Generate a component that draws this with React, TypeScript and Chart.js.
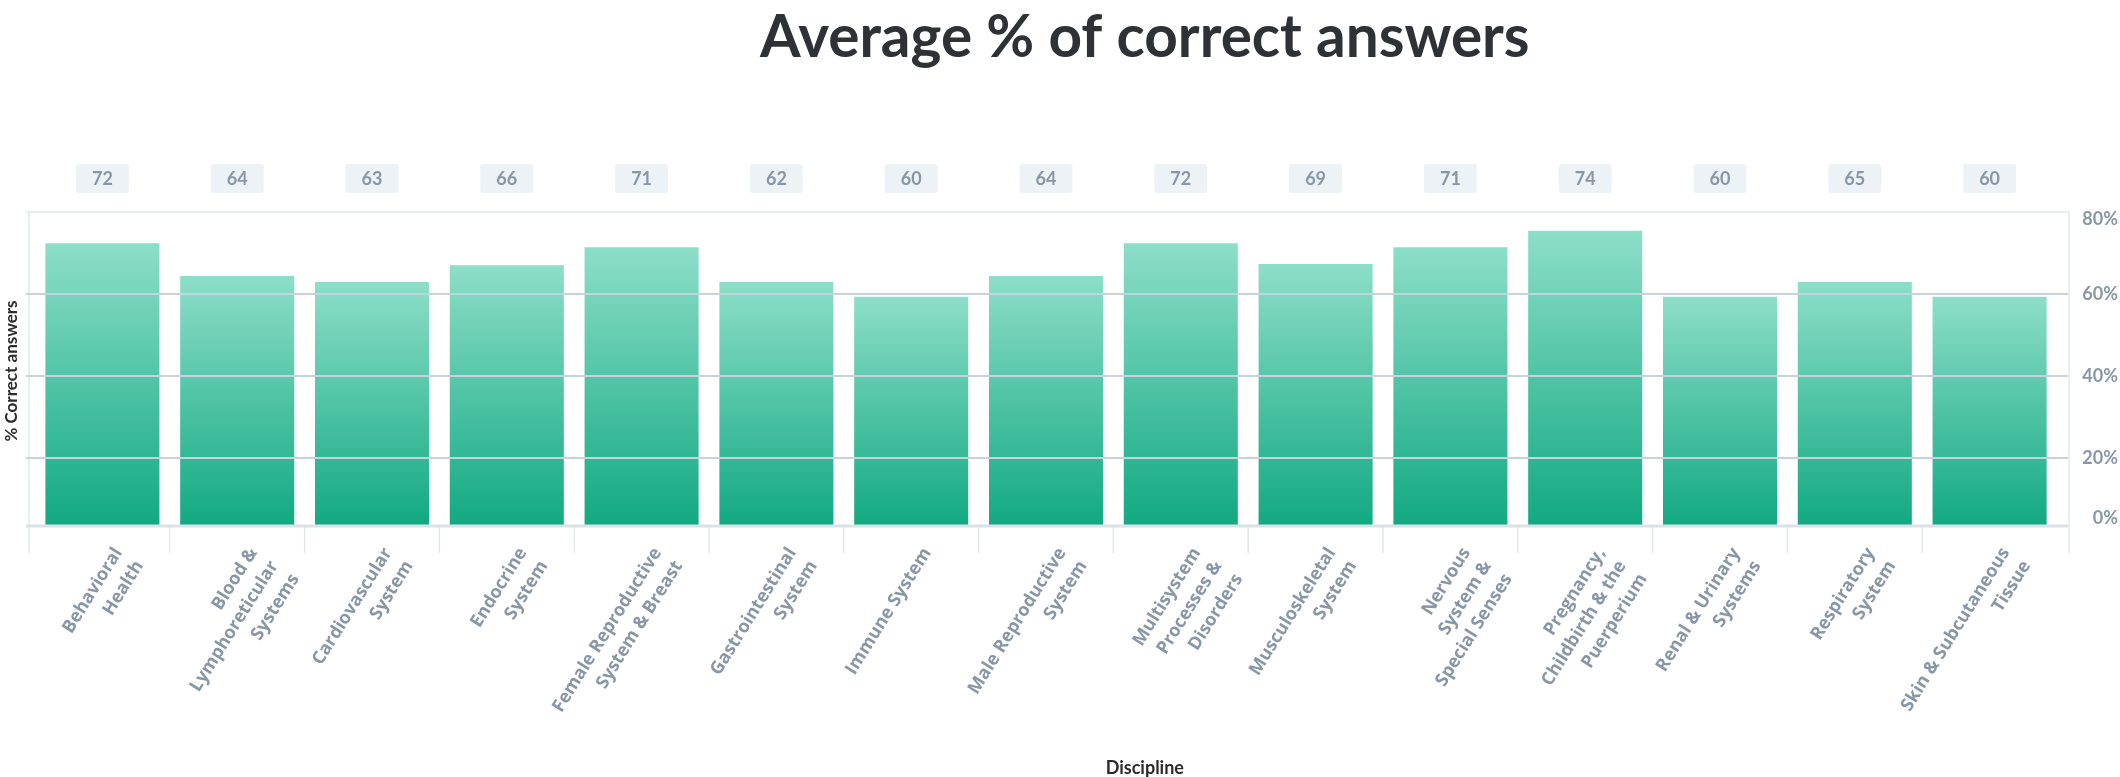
import React, { useEffect, useRef } from "react";
import { Chart, registerables } from "chart.js";

Chart.register(...registerables);

const disciplines: string[][] = [
  ["Behavioral", "Health"],
  ["Blood &", "Lymphoreticular", "Systems"],
  ["Cardiovascular", "System"],
  ["Endocrine", "System"],
  ["Female Reproductive", "System & Breast"],
  ["Gastrointestinal", "System"],
  ["Immune System"],
  ["Male Reproductive", "System"],
  ["Multisystem", "Processes &", "Disorders"],
  ["Musculoskeletal", "System"],
  ["Nervous", "System &", "Special Senses"],
  ["Pregnancy,", "Childbirth & the", "Puerperium"],
  ["Renal & Urinary", "Systems"],
  ["Respiratory", "System"],
  ["Skin & Subcutaneous", "Tissue"],
];

// bar heights
const percentCorrect: number[] = [
  72.4, 64.4, 62.9, 67.0, 71.4, 62.9, 59.3, 64.4, 72.4, 67.3, 71.4, 75.4, 59.3, 62.9, 59.3,
];

// numbers shown in the grey boxes above the plot
const boxValues: number[] = [72, 64, 63, 66, 71, 62, 60, 64, 72, 69, 71, 74, 60, 65, 60];

const yTicks: number[] = [0, 20, 40, 60, 80];
const yMin = 3.35;
const yMax = 80;

const chartTitle = "Average % of correct answers";
const xTitle = "Discipline";
const yTitle = "% Correct answers";

const barTop = "#8ddec8";
const barBottom = "#12a981";
const tickColor = "#8797a7";

const decorPlugin = {
  id: "decor",
  beforeDatasetsDraw(chart: any) {
    const { ctx, chartArea, scales } = chart;
    const { left, right, top, bottom } = chartArea;
    const x = scales.x;
    ctx.save();
    ctx.strokeStyle = "#e1e7ec";
    ctx.lineWidth = 1.5;
    // frame
    ctx.beginPath();
    ctx.moveTo(left - 9, top);
    ctx.lineTo(right + 12, top);
    ctx.moveTo(left - 6, top);
    ctx.lineTo(left - 6, bottom + 27);
    ctx.moveTo(right + 12, top);
    ctx.lineTo(right + 12, bottom + 27);
    // category separators
    for (let i = 1; i < disciplines.length; i++) {
      const xx = (x.getPixelForValue(i - 1) + x.getPixelForValue(i)) / 2;
      ctx.moveTo(xx, bottom);
      ctx.lineTo(xx, bottom + 27);
    }
    ctx.stroke();
    ctx.restore();
  },
  afterDatasetsDraw(chart: any) {
    const { ctx, chartArea, scales } = chart;
    const { left, right, bottom } = chartArea;
    const y = scales.y;
    ctx.save();
    ctx.strokeStyle = "#c8d2dc";
    ctx.lineWidth = 2;
    ctx.beginPath();
    y.ticks.forEach((t: any, i: number) => {
      if (i === 0 || i === y.ticks.length - 1) return;
      const yy = Math.round(y.getPixelForValue(t.value));
      ctx.moveTo(left - 9, yy);
      ctx.lineTo(right + 11, yy);
    });
    ctx.stroke();
    ctx.strokeStyle = "#dbe2e7";
    ctx.lineWidth = 3;
    ctx.beginPath();
    ctx.moveTo(left - 9, bottom);
    ctx.lineTo(right + 11, bottom);
    ctx.stroke();
    ctx.restore();
  },
  afterDraw(chart: any) {
    const { ctx, chartArea, scales, width } = chart;
    const x = scales.x;
    ctx.save();
    // title
    ctx.fillStyle = "#2e3136";
    ctx.font = "bold 58.5px Lato";
    ctx.textAlign = "center";
    ctx.textBaseline = "alphabetic";
    ctx.fillText(chartTitle, width * 0.54, 57);
    // x axis title
    ctx.fillStyle = "#2b2b2b";
    ctx.font = "bold 18px Lato";
    ctx.textBaseline = "middle";
    ctx.fillText(xTitle, width * 0.54, 768);
    // y axis title
    ctx.save();
    ctx.translate(12, (chartArea.top + chartArea.bottom) / 2 + 2);
    ctx.rotate(-Math.PI / 2);
    ctx.font = "bold 17px Lato";
    ctx.fillText(yTitle, 0, 0);
    ctx.restore();
    // value boxes
    const boxTop = chartArea.top - 48;
    boxValues.forEach((v, i) => {
      const cx = x.getPixelForValue(i);
      ctx.fillStyle = "#edf2f6";
      ctx.beginPath();
      ctx.roundRect(cx - 26.5, boxTop, 53, 29, 3);
      ctx.fill();
      ctx.fillStyle = tickColor;
      ctx.font = "bold 18px Lato";
      ctx.fillText(String(v), cx, boxTop + 15);
    });
    ctx.restore();
  },
};

const App: React.FC = () => {
  const chartRef = useRef<HTMLCanvasElement>(null);

  useEffect(() => {
    const canvas = chartRef.current;
    if (!canvas) return;

    const chart = new Chart(canvas, {
      type: "bar",
      data: {
        labels: disciplines,
        datasets: [
          {
            label: yTitle,
            data: percentCorrect,
            backgroundColor: (c: any) => {
              const { chart: ch } = c;
              const area = ch.chartArea;
              if (!area || c.type !== "data") return barBottom;
              const yTop = ch.scales.y.getPixelForValue(c.raw);
              const g = ch.ctx.createLinearGradient(0, yTop, 0, area.bottom);
              g.addColorStop(0, barTop);
              g.addColorStop(1, barBottom);
              return g;
            },
            borderWidth: 0,
            categoryPercentage: 1,
            barPercentage: 0.846,
          },
        ],
      },
      options: {
        responsive: false,
        animation: false,
        layout: { padding: { top: 212, left: 35, right: 2, bottom: 0 } },
        plugins: {
          legend: { display: false },
          tooltip: { enabled: false },
          title: { display: false },
        },
        scales: {
          x: {
            type: "category",
            offset: true,
            grid: { display: false, drawTicks: false },
            border: { display: false },
            ticks: {
              autoSkip: false,
              minRotation: 58,
              maxRotation: 58,
              labelOffset: 16,
              padding: 17,
              color: tickColor,
              font: { family: "'Open Sans'", weight: "bold", size: 18, lineHeight: 1.37 },
            },
            afterFit: (s: any) => {
              s.height = 251;
            },
          },
          y: {
            position: "right",
            min: yMin,
            max: yMax,
            grid: { display: false, drawTicks: false },
            border: { display: false },
            afterBuildTicks: (s: any) => {
              s.ticks = yTicks.map((v) => ({ value: Math.max(v, yMin) }));
            },
            ticks: {
              crossAlign: "far",
              color: tickColor,
              font: { family: "Lato", weight: "bold", size: 18, lineHeight: "15px" },
              callback: (_v: any, i: number) => {
                const txt = `${yTicks[i]}%`;
                if (i === 0) return [txt, ""];
                if (i === yTicks.length - 1) return ["", txt];
                return txt;
              },
            },
            afterFit: (s: any) => {
              s.width = 61;
            },
          },
        },
      },
      plugins: [decorPlugin],
    });

    return () => {
      chart.destroy();
    };
  }, []);

  return (
    <div style={{ position: "absolute", top: 0, left: 0, width: 2120, height: 777, background: "#fff" }}>
      <canvas ref={chartRef} width={2120} height={777}></canvas>
    </div>
  );
};

export default App;
